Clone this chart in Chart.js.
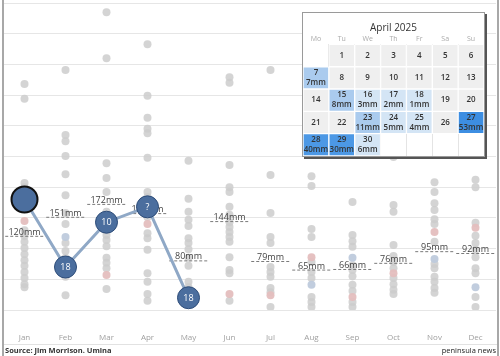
<!DOCTYPE html>
<html><head><meta charset="utf-8">
<script src="https://cdn.jsdelivr.net/npm/chart.js@4"></script>
<style>
html,body{margin:0;padding:0;background:#fff;}
#wrap{position:relative;width:500px;height:356px;overflow:hidden;font-family:"Open Sans",sans-serif;}
#main{position:absolute;left:0;top:0;}
#calbox{position:absolute;left:302px;top:12px;width:181px;height:143px;background:#fff;border:1px solid #9a9a9a;box-shadow:2px 2px 0 #555;}
#cal{display:block;}
#frameL{position:absolute;left:2px;top:0;width:2px;height:356px;background:#a8a8a8;}
#frameR{position:absolute;left:497px;top:0;width:2px;height:356px;background:#a8a8a8;}
#sep{position:absolute;left:4px;top:344px;width:493px;height:1px;background:#e2e2e2;}
#src{position:absolute;left:5px;top:344px;font-size:7.5px;font-weight:bold;color:#333;line-height:12px;}
#brand{position:absolute;right:4px;top:344px;font-size:7.5px;color:#222;line-height:12px;}
</style></head>
<body>
<div id="wrap">
  <canvas id="main" width="500" height="356"></canvas>
  <div id="frameL"></div><div id="frameR"></div><div id="sep"></div>
  <div id="src">Source: Jim Morrison. Umina</div>
  <div id="brand">peninsula news</div>
  <div id="calbox"><canvas id="cal" width="181" height="143"></canvas></div>
</div>
<script>
// ---------- data ----------
const months = ['Jan','Feb','Mar','Apr','May','Jun','Jul','Aug','Sep','Oct','Nov','Dec'];
const histJan = [368,344,207,200,192,130,120,111,101,91,81,72,62,52,42,37];
const histFeb = [391,285,275,251,221,187,158,140,109,96,85,54,24];
const histMar = [485,410,239,215,192,160,130,122,114,104,85,77,68,34];
const histApr = [433,349,313,295,288,248,192,184,151,125,117,98,60,46,26,15];
const histMay = [243,181,160,147,137,117,109,99,85,72,46,37];
const histJun = [379,370,236,200,192,168,155,143,135,127,119,111,86,65,60,15];
const histJul = [391,220,158,119,109,70,62,54,36,29,5];
const histAug = [218,202,132,119,78,62,52,21,13,5];
const histSep = [176,122,112,103,73,65,55,41,31,13,5];
const histOct = [249,171,160,106,88,78,68,52,42,33,26];
const histNov = [208,192,174,163,148,140,111,75,68,54,46,36,28];
const histDec = [212,200,142,121,109,98,86,68,60,21,5];
const pinkYear = [145,null,57,140,null,26,24,86,21,60,127,134];
const blueYear = [null,119,null,null,null,null,null,41,85,null,83,37];
const avgRain = [120,151,172,157,80,144,79,65,66,76,95,92];
const rain2025 = [180,70,143,168,20];
const rainDays2025 = ['','18','10','?','18'];

const calTitle = 'April 2025';
const weekdays = ['Mo','Tu','We','Th','Fr','Sa','Su'];
const aprilRain = [0,0,0,0,0,0,7,0,0,0,0,0,0,0,8,3,2,1,0,0,0,0,11,5,4,0,53,40,30,6];
const aprilFirstWeekday = 1; // Tuesday
const weeksShown = 5;

// ---------- main chart ----------
const hist = [histJan,histFeb,histMar,histApr,histMay,histJun,histJul,histAug,histSep,histOct,histNov,histDec];
const grayPts = [];
hist.forEach((arr,i)=>arr.forEach(v=>grayPts.push({x:i,y:v})));
const pinkPts = [], bluePts = [];
pinkYear.forEach((v,i)=>{ if(v!==null) pinkPts.push({x:i,y:v}); });
blueYear.forEach((v,i)=>{ if(v!==null) bluePts.push({x:i,y:v}); });
const avgPts = [];
avgRain.forEach((v,i)=>{ avgPts.push({x:i-0.47,y:v},{x:i+0.47,y:v},{x:i+0.5,y:null}); });
const curPts = rain2025.map((v,i)=>({x:i,y:v}));

const FONT = '"Open Sans", sans-serif';
const AVG_IDX = 1, CUR_IDX = 0;

const mainLabels = {
  id:'mainLabels',
  afterDatasetDraw(chart,args){
    const ctx = chart.ctx, xs = chart.scales.xl, ys = chart.scales.y;
    if(args.index===AVG_IDX){
      ctx.save();
      ctx.font = '9px '+FONT; ctx.fillStyle='#444'; ctx.textAlign='center'; ctx.textBaseline='middle';
      avgRain.forEach((v,i)=>ctx.fillText(v+'mm', xs.getPixelForValue(i), ys.getPixelForValue(v)-4));
      ctx.restore();
    }
    if(args.index===CUR_IDX){
      const meta = chart.getDatasetMeta(CUR_IDX);
      ctx.save();
      ctx.font = '9px '+FONT; ctx.fillStyle='#fff'; ctx.textAlign='center'; ctx.textBaseline='middle';
      meta.data.forEach((el,i)=>{ if(rainDays2025[i]) ctx.fillText(rainDays2025[i], el.x, el.y+0.5); });
      ctx.restore();
    }
  }
};

new Chart(document.getElementById('main'),{
  data:{
    datasets:[
      {type:'line', data:curPts, xAxisID:'xl', order:0, borderColor:'#8fa8c6', borderWidth:3,
       pointRadius:rain2025.map((v,i)=>i===0?13:11), pointBackgroundColor:'#4b6e9e',
       pointBorderColor:rain2025.map((v,i)=>i===0?'#111':'#2d4c78'),
       pointBorderWidth:rain2025.map((v,i)=>i===0?2:1), tension:0, clip:false},
      {type:'line', data:avgPts, xAxisID:'xl', order:1, borderColor:'#7a7a7a', borderWidth:1,
       borderDash:[3,2], pointRadius:0, spanGaps:false},
      {type:'line', data:pinkPts, xAxisID:'xl', order:2, showLine:false, pointRadius:4,
       pointBackgroundColor:'rgba(228,190,190,0.95)', pointBorderWidth:0},
      {type:'line', data:bluePts, xAxisID:'xl', order:3, showLine:false, pointRadius:4,
       pointBackgroundColor:'rgba(190,202,220,0.95)', pointBorderWidth:0},
      {type:'line', data:grayPts, xAxisID:'xl', order:4, showLine:false, pointRadius:4,
       pointBackgroundColor:'rgba(205,205,205,0.85)', pointBorderWidth:0}
    ]
  },
  options:{
    responsive:false, maintainAspectRatio:false, animation:false, events:[],
    layout:{autoPadding:false, padding:{left:4,right:4,top:3,bottom:14}},
    plugins:{legend:{display:false},tooltip:{enabled:false}},
    scales:{
      x:{type:'category', labels:months, offset:true, grid:{display:false, drawTicks:false}, border:{display:false},
         ticks:{color:'#a0a0a0', font:{size:8,family:FONT}, padding:23},
         afterFit(s){ s.height = 32; s.paddingLeft = 0; s.paddingRight = 0; }},
      xl:{type:'linear', min:-0.5, max:11.5, display:false},
      y:{min:0, max:500, ticks:{display:false, stepSize:50}, grid:{color:'#e6e6e6', drawTicks:false}, border:{display:false},
         afterFit(s){ s.width = 0; s.paddingTop = 0; s.paddingBottom = 0; }}
    }
  },
  plugins:[mainLabels]
});

// ---------- calendar ----------
function rainColor(mm){
  if(mm<=0) return '#efefef';
  if(mm<7) return '#d4e5f5';
  if(mm<20) return '#aacbee';
  if(mm<45) return '#4c98e5';
  return '#3d8ee2';
}
const calSets = [];
for(let w=0; w<weeksShown; w++){
  const data = [], colors = [], days = [];
  for(let d=0; d<7; d++){
    const day = w*7 + d - aprilFirstWeekday + 1;
    if(day>=1 && day<=aprilRain.length){
      data.push([w,w+1]); colors.push(rainColor(aprilRain[day-1])); days.push(day);
    } else { data.push(null); colors.push('#fff'); days.push(null); }
  }
  calSets.push({type:'bar', data, backgroundColor:colors, borderColor:'#fff', borderWidth:1,
    borderSkipped:false, grouped:false, barPercentage:1, categoryPercentage:1, days});
}
const calLabels = {
  id:'calLabels',
  afterDatasetsDraw(chart){
    const ctx = chart.ctx;
    ctx.save();
    ctx.textAlign='center'; ctx.textBaseline='middle'; ctx.fillStyle='#333';
    chart.data.datasets.forEach((ds,di)=>{
      const meta = chart.getDatasetMeta(di);
      meta.data.forEach((el,i)=>{
        const day = ds.days[i]; if(!day) return;
        const cy = (el.y+el.base)/2, mm = aprilRain[day-1];
        ctx.font = '600 8px '+FONT;
        if(mm>0){
          ctx.fillText(String(day), el.x, cy-5);
          ctx.fillText(mm+'mm', el.x, cy+5);
        } else ctx.fillText(String(day), el.x, cy);
      });
    });
    ctx.restore();
  }
};
new Chart(document.getElementById('cal'),{
  type:'bar',
  data:{labels:weekdays, datasets:calSets},
  options:{
    responsive:false, maintainAspectRatio:false, animation:false, events:[],
    layout:{padding:0},
    plugins:{legend:{display:false},tooltip:{enabled:false},
      title:{display:true, text:calTitle, color:'#333', font:{size:10,family:FONT,weight:'normal'}, padding:{top:9,bottom:0}}},
    scales:{
      x:{type:'category', position:'top', offset:true, grid:{color:'#e4e4e4', offset:true, drawTicks:false},
         border:{display:false}, ticks:{color:'#aaa', font:{size:7,family:FONT}, padding:1}},
      y:{type:'linear', reverse:true, min:0, max:weeksShown, display:false}
    }
  },
  plugins:[calLabels]
});
</script>
</body></html>
